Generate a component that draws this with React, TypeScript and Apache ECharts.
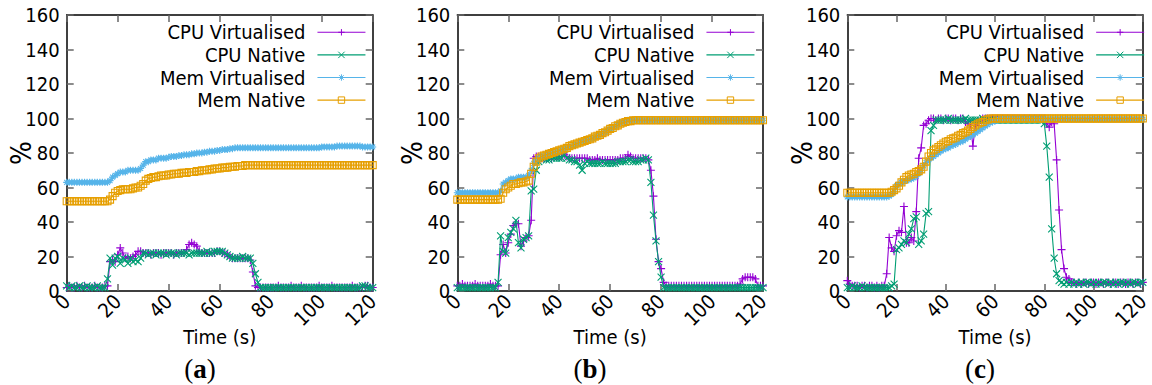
import React, { useEffect, useRef } from "react";
import * as echarts from "echarts";

// ---------- labels ----------
const SERIES_NAMES = ["CPU Virtualised", "CPU Native", "Mem Virtualised", "Mem Native"];
const PANEL_LETTERS = ["a", "b", "c"];
const X_NAME = "Time (s)";
const Y_NAME = "%";
const TIME_STEP_S = 1; // one sample per second, from t = 0 to t = 120
const X_MIN = 0, X_MAX = 120, X_INTERVAL = 20;
const Y_MIN = 0, Y_MAX = 160, Y_INTERVAL = 20;

// ---------- panel (a) ----------
const A_CPU_VIRT = [
  2,3,2,2,3,2,2,3,2,2,
  2,3,2,2,2,3,3,17,18,17,
  21,25,22,19,20,19,20,21,23,23,
  22,22,22,21,22,22,22,21,22,22,
  22,22,21,22,22,22,22,24,27,28,
  27,26,23,22,22,22,22,22,22,23,
  23,22,22,21,20,19,19,19,19,19,
  19,19,18,11,3,2,2,2,2,2,
  2,2,2,3,2,2,2,2,3,2,
  2,2,3,2,2,2,2,2,2,3,
  2,2,2,2,3,2,2,2,2,2,
  2,2,3,2,2,2,2,3,3,2,
  2];
const A_CPU_NAT = [
  3,2,3,2,2,3,2,2,3,2,
  2,2,3,2,2,2,7,19,15,19,
  20,16,19,18,16,19,17,18,17,19,
  22,22,21,22,22,21,22,22,22,21,
  22,22,22,21,22,22,22,22,21,22,
  22,22,22,22,22,23,22,22,23,23,
  23,23,22,21,20,19,19,19,19,20,
  19,19,19,16,10,5,2,2,2,2,
  2,2,2,2,2,2,2,2,2,2,
  2,2,2,2,2,2,2,2,2,2,
  2,2,2,2,2,2,2,2,2,2,
  2,2,2,2,2,2,3,3,2,2,
  2];
const A_MEM_VIRT = [
  63,63,63,63,63,63,63,63,63,63,
  63,63,63,63,63,63,63,64,66,67,
  68,69,69,69,70,70,70,70,70,71,
  73,75,75,76,76,76,77,77,77,77,
  77.5,78,78,78,78.5,78.5,79,79,79,79.5,
  79.5,80,80,80,80.5,80.5,81,81,81,81.5,
  81.5,82,82,82,82.5,82.5,83,83,83,83,
  83,83,83,83,83,83,83,83,83,83,
  83,83,83,83,83,83,83,83,83,83,
  83,83,83,83,83,83,83,83,83,83,
  83.5,83.5,83.5,83.5,83.5,83.5,84,84,84,84,
  84,84,84,84,84,84,83.5,83.5,83.5,83.5,
  83.5];
const A_MEM_NAT = [
  52,52,52,52,52,52,52,52,52,52,
  52,52,52,52,52,52,52,53,55,57,
  58,58.5,59,59,59,59,59.5,60,60,61,
  62,64,65,65.5,66,66,66.5,67,67,67,
  67.5,67.5,68,68,68,68.5,68.5,68.5,69,69,
  69,69.5,69.5,70,70,70,70.5,70.5,71,71,
  71,71.5,71.5,71.5,72,72,72,72.5,72.5,72.5,
  73,73,73,73,73,73,73,73,73,73,
  73,73,73,73,73,73,73,73,73,73,
  73,73,73,73,73,73,73,73,73,73,
  73,73,73,73,73,73,73,73,73,73,
  73,73,73,73,73,73,73,73,73,73,
  73];

// ---------- panel (b) ----------
const B_CPU_VIRT = [
  3,3,4,3,3,3,3,4,3,3,
  3,3,3,4,3,3,3,21,27,22,
  28,33,38,39,39,26,29,31,32,41,
  77,78,78,77,77,77,78,77,78,78,
  78,78,79,78,77,77,77,77,77,77,
  77,77,76,76,76,77,76,76,76,76,
  76,76,76,76,77,77,77,79,78,77,
  77,77,77,77,77,76,70,55,30,17,
  13,5,3,3,3,3,3,3,3,3,
  3,3,3,3,3,3,3,3,3,3,
  3,3,3,3,3,3,3,3,3,3,
  3,4,7,8,8,8,8,7,3,3,
  3];
const B_CPU_NAT = [
  2,2,2,2,2,2,2,2,2,2,
  2,2,2,2,2,2,5,32,23,22,
  31,34,36,41,28,25,30,31,32,58,
  59,70,75,77,77,76,76,77,77,77,
  77,77,79,77,76,76,75,75,73,70,
  74,75,74,74,74,74,74,75,74,74,
  74,74,74,75,75,75,75,76,76,75,
  75,75,76,76,77,76,63,44,29,17,
  8,2,2,2,2,2,2,2,2,2,
  2,2,2,2,2,2,2,2,2,2,
  2,2,2,2,2,2,2,2,2,2,
  2,2,2,2,2,2,2,2,2,2,
  2];
const B_MEM_VIRT = [
  57,57,57,57,57,57,57,57,57,57,
  57,57,57,57,57,57,57,58,62,63,
  64,65,65,65,66,66,66,66,67,70,
  74,76,77,78,78.5,79,79.5,80,80.5,81,
  81.5,82,82.5,83,83.5,84,84.5,85,86,86.5,
  87,87.5,88,88.5,89,90,90.5,91,92,93,
  94,94.5,95.5,96.5,97.5,98,98.5,99,99,99,
  99,99,99,99,99,99,99,99,99,99,
  99,99,99,99,99,99,99,99,99,99,
  99,99,99,99,99,99,99,99,99,99,
  99,99,99,99,99,99,99,99,99,99,
  99,99,99,99,99,99,99,99,99,99,
  99];
const B_MEM_NAT = [
  53,53,53,53,53,53,53,53,53,53,
  53,53,53,53,53,53,53,53.5,57,59,
  60,61,62,62,62.5,63,63,63.5,64,68,
  72,75,77,78,78.5,79,79.5,80,80.5,81,
  81.5,82,82.5,83,84,84.5,85,85.5,86,86.5,
  87,87.5,88,88.5,89.5,90,90.5,91.5,92,93,
  94,94.5,95.5,96,97,97.5,98,98.5,98.5,99,
  99,99,99,99,99,99,99,99,99,99,
  99,99,99,99,99,99,99,99,99,99,
  99,99,99,99,99,99,99,99,99,99,
  99,99,99,99,99,99,99,99,99,99,
  99,99,99,99,99,99,99,99,99,99,
  99];

// ---------- panel (c) ----------
const C_CPU_VIRT = [
  6,4,3,3,3,2,3,3,2,3,
  3,2,3,2,3,3,10,31,25,23,
  32,35,34,49,28,28,31,29,46,77,
  83,96,97,99,100,100,99,100,100,99,
  100,100,99,100,100,99,100,100,98,97,
  97,84,96,98,99,100,100,100,100,100,
  100,100,100,100,100,100,100,100,100,100,
  100,100,100,100,100,100,100,100,100,100,
  100,97,95,98,97,76,47,24,13,8,
  7,5,5,4,5,4,5,5,4,5,
  5,4,5,5,4,5,5,4,5,5,
  4,5,5,4,5,5,4,5,5,4,
  5];
const C_CPU_NAT = [
  2,2,3,2,2,2,3,2,2,2,
  2,2,2,2,2,2,2,2,3,4,
  24,25,27,29,28,33,36,42,43,27,
  29,33,45,46,93,96,99,99,99,99,
  99,100,99,99,99,99,99,99,100,99,
  99,99,99,99,99,100,99,99,99,99,
  99,99,99,99,99,99,99,99,99,99,
  99,99,99,99,99,99,99,99,99,99,
  97,84,66,36,19,10,6,5,4,5,
  4,5,4,5,4,5,4,5,5,4,
  5,4,5,4,5,5,4,5,4,5,
  4,5,5,4,5,4,5,5,4,5,
  5];
const C_MEM_VIRT = [
  54.5,54.5,54.5,54.5,54.5,54.5,54.5,54.5,54.5,54.5,
  54.5,54.5,54.5,54.5,54.5,54.5,54.5,55,56,58,
  61,62,63,63.5,64,64.5,65,65.5,66.5,68,
  70,72.5,74.5,76,77,78,79,80,81,82,
  82.5,83,84,84.5,85,86,86.5,87,88,89,
  89.5,90.5,91.5,92.5,93.5,94.5,95.5,96.5,97.5,98,
  98.5,99,99.5,99.5,99.5,99.5,99.5,99.5,99.5,99.5,
  99.5,99.5,99.5,99.5,99.5,99.5,99.5,99.5,99.5,99.5,
  99.5,99.5,99.5,99.5,99.5,99.5,99.5,99.5,99.5,99.5,
  99.5,99.5,99.5,99.5,99.5,99.5,99.5,99.5,99.5,99.5,
  99.5,99.5,99.5,99.5,99.5,99.5,99.5,99.5,99.5,99.5,
  99.5,99.5,99.5,99.5,99.5,99.5,99.5,99.5,99.5,99.5,
  99.5];
const C_MEM_NAT = [
  57,57,57,57,57,57,57,57,57,57,
  57,57,57,57,57,57,57,57,57.5,58.5,
  59.5,61,63,64.5,66,67,67.5,68,69,69.5,
  70.5,72,75,78,80,81.5,82.5,83.5,84.5,85.5,
  86.5,87,88,88.5,89,90,90.5,91.5,92,93,
  94,95,96,97,97.5,98,99,99.5,100,100,
  100,100,100,100,100,100,100,100,100,100,
  100,100,100,100,100,100,100,100,100,100,
  100,100,100,100,100,100,100,100,100,100,
  100,100,100,100,100,100,100,100,100,100,
  100,100,100,100,100,100,100,100,100,100,
  100,100,100,100,100,100,100,100,100,100,
  100];

const PANEL_DATA = [
  [A_CPU_VIRT, A_CPU_NAT, A_MEM_VIRT, A_MEM_NAT],
  [B_CPU_VIRT, B_CPU_NAT, B_MEM_VIRT, B_MEM_NAT],
  [C_CPU_VIRT, C_CPU_NAT, C_MEM_VIRT, C_MEM_NAT],
];

// ---------- styling / layout ----------
const COLORS = ["#9400d3", "#009e73", "#56b4e9", "#e69f00"];
const SYMBOLS = [
  "path://M0,5L10,5M5,0L5,10",
  "path://M0,0L10,10M10,0L0,10",
  "path://M0,5L10,5M5,0L5,10M1.5,1.5L8.5,8.5M8.5,1.5L1.5,8.5",
  "path://M0,0L10,0L10,10L0,10Z",
];
const SYMBOL_SIZES = [8, 7, 7, 7];
const FONT = "'DejaVu Sans Condensed', 'DejaVu Sans', sans-serif";
const FS = 20;
const GRID_TOP = 15;
const GRID_H = 276;
const GRID_LAYOUT = [
  { left: 66.7, width: 306 },
  { left: 457.3, width: 305.7 },
  { left: 847.3, width: 306 },
];
const LEGEND_RIGHT = [786, 397, 7.3];
const LEGEND_TOP = 22.3;
const LETTER_X = [200, 590, 980];
const LETTER_Y = 369;

export default function App() {
  const ref = useRef<HTMLDivElement>(null);

  useEffect(() => {
    if (!ref.current) return;
    const chart = echarts.init(ref.current, null, { renderer: "svg" });

    const grid: any[] = [];
    const xAxis: any[] = [];
    const yAxis: any[] = [];
    const series: any[] = [];
    const legend: any[] = [];
    const graphic: any[] = [];

    const axisLine = { show: true, onZero: false, lineStyle: { color: "#000", width: 1.5 } };
    const axisTick = { show: true, inside: true, length: 7, lineStyle: { color: "#666", width: 1.5 } };

    PANEL_DATA.forEach((panel, p) => {
      grid.push({ left: GRID_LAYOUT[p].left, width: GRID_LAYOUT[p].width, top: GRID_TOP, height: GRID_H, containLabel: false });
      xAxis.push({
        type: "value", gridIndex: p, position: "bottom",
        min: X_MIN, max: X_MAX, interval: X_INTERVAL,
        axisLine, axisTick, splitLine: { show: false },
        axisLabel: { rotate: 45, margin: 7, fontSize: FS, fontFamily: FONT, color: "#000" },
        name: X_NAME, nameLocation: "middle", nameGap: 36, nameMoveOverlap: false,
        nameTextStyle: { fontSize: FS, fontFamily: FONT, color: "#000" },
      });
      xAxis.push({
        type: "value", gridIndex: p, position: "top",
        min: X_MIN, max: X_MAX, interval: X_INTERVAL,
        axisLine, axisTick, splitLine: { show: false }, axisLabel: { show: false },
      });
      yAxis.push({
        type: "value", gridIndex: p, position: "left",
        min: Y_MIN, max: Y_MAX, interval: Y_INTERVAL,
        axisLine, axisTick, splitLine: { show: false },
        axisLabel: { margin: 7, fontSize: FS, fontFamily: FONT, color: "#000" },
        name: Y_NAME, nameLocation: "middle", nameGap: 31, nameMoveOverlap: false,
        nameTextStyle: { fontSize: 28, fontFamily: FONT, color: "#000" },
      });
      yAxis.push({
        type: "value", gridIndex: p, position: "right",
        min: Y_MIN, max: Y_MAX, interval: Y_INTERVAL,
        axisLine, axisTick, splitLine: { show: false }, axisLabel: { show: false },
      });

      panel.forEach((values, s) => {
        series.push({
          type: "line",
          name: SERIES_NAMES[s],
          xAxisIndex: p * 2,
          yAxisIndex: p * 2,
          data: values.map((v, i) => [i * TIME_STEP_S, v]),
          symbol: SYMBOLS[s],
          symbolSize: SYMBOL_SIZES[s],
          showSymbol: true,
          showAllSymbol: true,
          lineStyle: { color: COLORS[s], width: 1.1 },
          itemStyle: { color: "rgba(0,0,0,0)", borderColor: COLORS[s], borderWidth: 1.1 },
          emphasis: { disabled: true },
          z: 2 + s,
        });
      });

      legend.push({
        orient: "vertical",
        align: "right",
        right: LEGEND_RIGHT[p],
        top: LEGEND_TOP,
        padding: 0,
        itemWidth: 48,
        itemHeight: 8,
        itemGap: 2.6,
        selectedMode: false,
        textStyle: { fontSize: FS, fontFamily: FONT, color: "#000", lineHeight: 20, padding: [0, 7, 0, 0] },
        data: SERIES_NAMES.map((name, s) => ({
          name,
          itemStyle: { color: "rgba(0,0,0,0)", borderColor: COLORS[s], borderWidth: 1 },
          lineStyle: { color: COLORS[s], width: 1.1 },
        })),
      });

      graphic.push({
        type: "text",
        x: LETTER_X[p],
        y: LETTER_Y,
        style: {
          text: `{p|(}{b|${PANEL_LETTERS[p]}}{p|)}`,
          align: "center",
          verticalAlign: "middle",
          textAlign: "center",
          textVerticalAlign: "middle",
          rich: {
            p: { fontSize: 27, fontFamily: "'Liberation Serif', serif", fill: "#000" },
            b: { fontSize: 27, fontFamily: "'Liberation Serif', serif", fontWeight: "bold", fill: "#000" },
          },
        },
      });
    });

    chart.setOption({
      animation: false,
      backgroundColor: "#fff",
      grid, xAxis, yAxis, series, legend, graphic,
    });

    return () => chart.dispose();
  }, []);

  return (
    <div
      ref={ref}
      style={{ position: "fixed", left: 0, top: 0, width: 1152, height: 385 }}
    />
  );
}
